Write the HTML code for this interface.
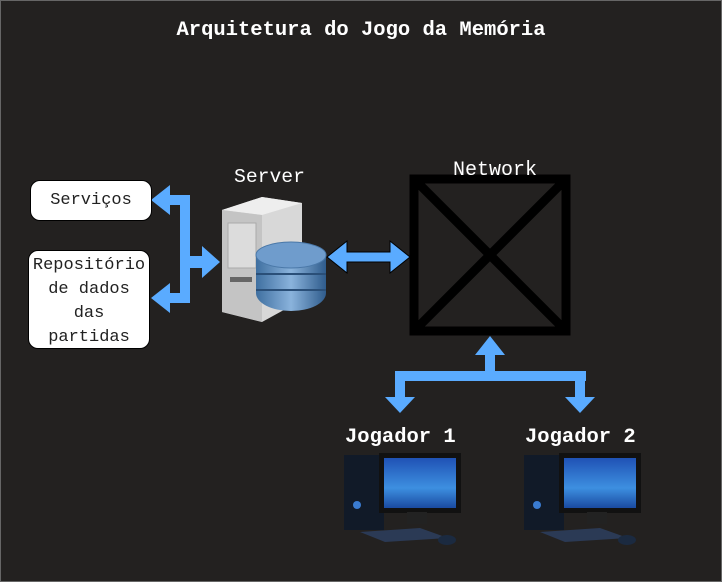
<!DOCTYPE html>
<html><head><style>
body{margin:0;width:722px;height:582px;background:#232120;overflow:hidden;position:relative;font-family:"Liberation Mono","DejaVu Sans Mono",monospace;color:#fff}
.t{position:absolute;white-space:nowrap;z-index:2}
.box{position:absolute;background:#fff;color:#222;border-radius:10px;text-align:center;font-size:17px;border:1px solid #000;z-index:2}
svg{z-index:1}
</style></head><body>
<div class="t" style="left:0;width:722px;text-align:center;top:19px;font-weight:bold;font-size:20.5px">Arquitetura do Jogo da Memória</div>
<div class="t" style="left:234px;top:166px;font-size:19.7px">Server</div>
<div class="t" style="left:453px;top:159px;font-size:20px">Network</div>
<div class="t" style="left:345px;top:426px;font-size:20.5px;font-weight:bold">Jogador 1</div>
<div class="t" style="left:525px;top:426px;font-size:20.5px;font-weight:bold">Jogador 2</div>
<div class="box" style="left:30px;top:180px;width:120px;height:39px;line-height:39px">Serviços</div>
<div class="box" style="left:28px;top:250px;width:122px;height:99px;line-height:24px;padding-top:3px;box-sizing:border-box">Repositório<br>de dados<br>das<br>partidas</div>
<svg width="722" height="582" style="position:absolute;left:0;top:0">
<defs>
<linearGradient id="db" x1="0" x2="1"><stop offset="0" stop-color="#3f6fa0"/><stop offset=".5" stop-color="#8ab3dc"/><stop offset="1" stop-color="#2f5c8c"/></linearGradient>
<linearGradient id="scr" x1="0" y1="0" x2="0" y2="1"><stop offset="0" stop-color="#1f52b5"/><stop offset=".6" stop-color="#3d8fe0"/><stop offset="1" stop-color="#1a4aa0"/></linearGradient>
</defs>
<rect x="0.5" y="0.5" width="721" height="581" fill="none" stroke="#666"/>
<g fill="#5aabff">
<rect x="180" y="196" width="10" height="105"/>
<polygon points="151,200 170,185 170,195 190,195 190,205 170,205 170,215"/>
<polygon points="151,298 170,283 170,293 190,293 190,303 170,303 170,313"/>
<polygon points="220,262 202,246 202,256 180,256 180,268 202,268 202,278"/>
<polygon points="327,257 347,241 347,252 390,252 390,241 410,257 390,273 390,262 347,262 347,273" stroke="#000" stroke-width="1"/>
<polygon points="490,336 505,355 495,355 495,375 485,375 485,355 475,355"/>
<rect x="395" y="371" width="191" height="10"/>
<rect x="395" y="371" width="10" height="30"/>
<rect x="575" y="371" width="10" height="30"/>
<polygon points="385,397 415,397 400,413"/>
<polygon points="565,397 595,397 580,413"/>
</g>
<rect x="414" y="179" width="152" height="152" fill="none" stroke="#000" stroke-width="9"/>
<line x1="414" y1="179" x2="566" y2="331" stroke="#000" stroke-width="9"/>
<line x1="566" y1="179" x2="414" y2="331" stroke="#000" stroke-width="9"/>
<polygon points="222,210 262,197 302,203 302,300 262,322 222,312" fill="#d8d8d8"/>
<polygon points="222,210 262,197 302,203 262,215" fill="#eee"/>
<polygon points="222,210 262,215 262,322 222,312" fill="#c4c4c4"/>
<rect x="228" y="223" width="28" height="45" fill="#dcdcdc" stroke="#aaa"/>
<rect x="230" y="277" width="22" height="5" fill="#666"/>
<ellipse cx="291" cy="293" rx="35" ry="18" fill="url(#db)"/>
<rect x="256" y="255" width="70" height="38" fill="url(#db)"/>
<line x1="256" y1="274" x2="326" y2="274" stroke="#2a4f78" stroke-width="2"/>
<line x1="256" y1="290" x2="326" y2="290" stroke="#2a4f78" stroke-width="2"/>
<ellipse cx="291" cy="255" rx="35" ry="13" fill="#6f9ccc" stroke="#4a78a8"/>
<g id="pc">
<rect x="344" y="455" width="40" height="75" fill="#111a28"/>
<rect x="379" y="453" width="82" height="60" fill="#111"/>
<rect x="384" y="458" width="72" height="50" fill="url(#scr)"/>
<rect x="407" y="512" width="20" height="12" fill="#222"/>
<polygon points="360,532 420,528 448,538 385,542" fill="#2b3a55"/>
<ellipse cx="447" cy="540" rx="9" ry="5" fill="#1b2a40"/>
<circle cx="357" cy="505" r="4" fill="#3a7bd0"/>
</g>
<use href="#pc" x="180"/>
</svg>
</body></html>
